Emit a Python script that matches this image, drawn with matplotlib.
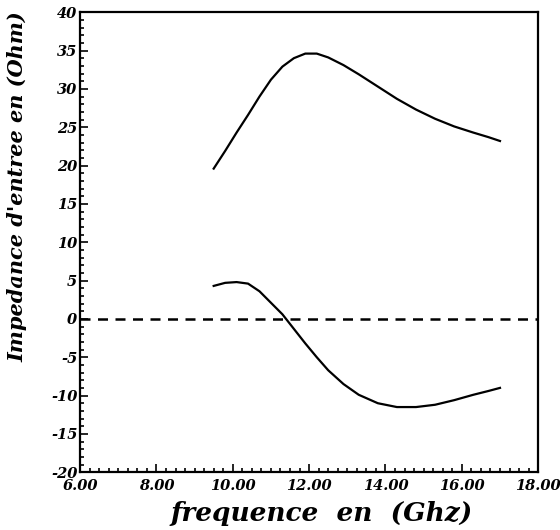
import matplotlib.pyplot as plt
from matplotlib.ticker import MultipleLocator, FormatStrFormatter

# Données
freq = [9.5, 9.8, 10.1, 10.4, 10.7, 11.0, 11.3, 11.6, 11.9, 12.2, 12.5, 12.9, 13.3,
        13.8, 14.3, 14.8, 15.3, 15.8, 16.3, 16.7, 17.0]
z_haut = [19.6, 21.9, 24.3, 26.6, 29.0, 31.2, 32.9, 34.0, 34.6, 34.6, 34.1, 33.1, 31.9,
          30.3, 28.7, 27.3, 26.1, 25.1, 24.3, 23.7, 23.2]
z_bas = [4.3, 4.7, 4.8, 4.6, 3.6, 2.1, 0.6, -1.3, -3.2, -5.0, -6.7, -8.5, -9.9,
         -11.0, -11.5, -11.5, -11.2, -10.6, -9.9, -9.4, -9.0]

plt.rcParams['font.family'] = 'DejaVu Serif'
plt.rcParams['axes.unicode_minus'] = False
fig = plt.figure(figsize=(5.6, 5.3), dpi=100)
ax = fig.add_axes([0.143, 0.109, 0.818, 0.868])

ax.plot(freq, z_haut, color='black', linewidth=1.6)
ax.plot(freq, z_bas, color='black', linewidth=1.6)
ax.axhline(0, color='black', linewidth=1.8, linestyle=(0, (4, 3)))

ax.set_xlim(6, 18)
ax.set_ylim(-20, 40)
ax.xaxis.set_major_locator(MultipleLocator(2))
ax.xaxis.set_minor_locator(MultipleLocator(0.25))
ax.yaxis.set_major_locator(MultipleLocator(5))
ax.yaxis.set_minor_locator(MultipleLocator(1))
ax.xaxis.set_major_formatter(FormatStrFormatter('%.2f'))
ax.tick_params(which='both', direction='in', top=False, right=False, width=1.2)
ax.tick_params(which='major', length=6, labelsize=10.5)
ax.tick_params(which='minor', length=3)
for lab in ax.get_xticklabels() + ax.get_yticklabels():
    lab.set_fontweight('bold')
    lab.set_fontstyle('italic')
ax.tick_params(axis='x', pad=5)
ax.tick_params(axis='y', pad=2)
for s in ax.spines.values():
    s.set_linewidth(1.6)

ax.set_xlabel('frequence  en  (Ghz)', fontsize=19, fontweight='bold', fontstyle='italic')
ax.xaxis.set_label_coords(0.528, -0.062, transform=ax.transAxes)
ax.xaxis.label.set_va('top')
ax.set_ylabel("Impedance d'entree en (Ohm)", fontsize=15, fontweight='bold', fontstyle='italic')
ax.yaxis.set_label_coords(-0.115, 0.62)

plt.savefig('out.png', dpi=100)
